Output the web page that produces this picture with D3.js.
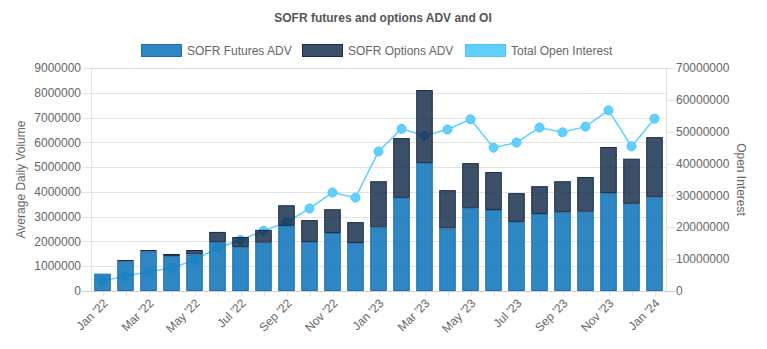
<!DOCTYPE html>
<html>
<head>
<meta charset="utf-8">
<script src="https://cdn.jsdelivr.net/npm/d3@7"></script>
<style>
  body { margin: 0; background: #fff; }
  svg { font-family: "Liberation Sans", Arial, sans-serif; }
</style>
</head>
<body>
<svg id="chart" width="767" height="349"></svg>
<script>
var months = ["Jan '22", "Feb '22", "Mar '22", "Apr '22", "May '22", "Jun '22", "Jul '22", "Aug '22",
  "Sep '22", "Oct '22", "Nov '22", "Dec '22", "Jan '23", "Feb '23", "Mar '23", "Apr '23", "May '23",
  "Jun '23", "Jul '23", "Aug '23", "Sep '23", "Oct '23", "Nov '23", "Dec '23", "Jan '24"];

var futuresADV = [700000, 1200000, 1600000, 1415000, 1480000, 1970000, 1780000, 1950000,
  2630000, 1980000, 2340000, 1940000, 2570000, 3760000, 5160000, 2530000, 3340000,
  3270000, 2790000, 3110000, 3180000, 3200000, 3950000, 3520000, 3800000];

var optionsADV = [15000, 50000, 55000, 80000, 175000, 415000, 400000, 520000,
  830000, 880000, 960000, 840000, 1860000, 2410000, 2950000, 1540000, 1820000,
  1530000, 1160000, 1120000, 1250000, 1400000, 1860000, 1820000, 2410000];

var openInterest = [3100000, 4700000, 6000000, 7200000, 9700000, 13500000, 16000000, 18900000,
  21500000, 25900000, 30900000, 29300000, 43800000, 50900000, 48800000, 50700000, 53900000,
  45000000, 46600000, 51300000, 49800000, 51600000, 56700000, 45400000, 54100000];

var leftTicks = d3.range(0, 9000001, 1000000);
var rightTicks = d3.range(0, 70000001, 10000000);

var svg = d3.select("#chart"),
  margin = { top: 68, right: 101, bottom: 58, left: 91 },
  width = +svg.attr("width") - margin.left - margin.right,
  height = +svg.attr("height") - margin.top - margin.bottom,
  g = svg.append("g").attr("transform", "translate(" + margin.left + "," + margin.top + ")");

var x = d3.scaleBand().domain(months).range([0, width]).paddingInner(0.28).paddingOuter(0.14);
var y = d3.scaleLinear().domain([0, 9000000]).range([height, 0]);
var y2 = d3.scaleLinear().domain([0, 70000000]).range([height, 0]);

// title
svg.append("text")
  .attr("x", 383).attr("y", 22)
  .attr("text-anchor", "middle")
  .attr("font-size", 12).attr("font-weight", "bold")
  .attr("fill", "#555")
  .text("SOFR futures and options ADV and OI");

// colours: [fill, opacity, border]
var colors = {
  futures: ["rgb(23,122,187)", 0.9, "#1f70b0"],
  options: ["rgb(13,36,68)", 0.8, "#1a2b45"],
  oi: ["#5fd0ff", 1, "#4cc6fa"]
};

// legend
var legend = [
  { name: "SOFR Futures ADV", key: "futures", x: 141 },
  { name: "SOFR Options ADV", key: "options", x: 302 },
  { name: "Total Open Interest", key: "oi", x: 465 }
];
var lg = svg.append("g").selectAll("g").data(legend).join("g")
  .attr("transform", function (d) { return "translate(" + d.x + ",44)"; });
lg.append("rect")
  .attr("x", 0.5).attr("y", 0.5).attr("width", 40).attr("height", 12)
  .attr("fill", function (d) { return colors[d.key][0]; })
  .attr("fill-opacity", function (d) { return colors[d.key][1]; })
  .attr("stroke", function (d) { return colors[d.key][2]; });
lg.append("text")
  .attr("x", 46).attr("y", 11)
  .attr("font-size", 12).attr("fill", "#666")
  .text(function (d) { return d.name; });

// grid
g.append("g")
  .selectAll("line").data(leftTicks).join("line")
  .attr("x1", -9).attr("x2", width)
  .attr("y1", function (d) { return Math.round(y(d)) + 0.5; })
  .attr("y2", function (d) { return Math.round(y(d)) + 0.5; })
  .attr("stroke", "#e3e3e3");

g.append("g")
  .selectAll("line").data(rightTicks).join("line")
  .attr("x1", width).attr("x2", width + 9)
  .attr("y1", function (d) { return Math.round(y2(d)) + 0.5; })
  .attr("y2", function (d) { return Math.round(y2(d)) + 0.5; })
  .attr("stroke", "#e3e3e3");

g.append("line").attr("x1", 0.5).attr("x2", 0.5).attr("y1", 0).attr("y2", height).attr("stroke", "#e3e3e3");
g.append("line").attr("x1", width + 0.5).attr("x2", width + 0.5).attr("y1", 0).attr("y2", height).attr("stroke", "#e3e3e3");

// x tick marks
g.append("g")
  .selectAll("line").data(months).join("line")
  .attr("x1", function (d) { return Math.round(x(d) + x.bandwidth() / 2) + 0.5; })
  .attr("x2", function (d) { return Math.round(x(d) + x.bandwidth() / 2) + 0.5; })
  .attr("y1", height).attr("y2", height + 5)
  .attr("stroke", "#e3e3e3");

// left axis labels
g.append("g")
  .selectAll("text").data(leftTicks).join("text")
  .attr("x", -10).attr("y", function (d) { return y(d); })
  .attr("dy", "0.35em")
  .attr("text-anchor", "end")
  .attr("font-size", 12).attr("fill", "#666")
  .text(function (d) { return d; });

// right axis labels
g.append("g")
  .selectAll("text").data(rightTicks).join("text")
  .attr("x", width + 10).attr("y", function (d) { return y2(d); })
  .attr("dy", "0.35em")
  .attr("font-size", 12).attr("fill", "#666")
  .text(function (d) { return d; });

// x labels (every other month)
g.append("g")
  .selectAll("text").data(months.filter(function (d, i) { return i % 2 === 0; })).join("text")
  .attr("transform", function (d) {
    return "translate(" + (x(d) + x.bandwidth() / 2 + 3) + "," + (height + 10) + ") rotate(-45)";
  })
  .attr("text-anchor", "end")
  .attr("dy", "0.35em")
  .attr("font-size", 12).attr("fill", "#666")
  .text(function (d) { return d; });

// axis titles
svg.append("text")
  .attr("transform", "translate(25," + (margin.top + height / 2) + ") rotate(-90)")
  .attr("text-anchor", "middle")
  .attr("font-size", 12).attr("fill", "#666")
  .text("Average Daily Volume");

svg.append("text")
  .attr("transform", "translate(737," + (margin.top + height / 2) + ") rotate(90)")
  .attr("text-anchor", "middle")
  .attr("font-size", 12).attr("fill", "#666")
  .text("Open Interest");

// open interest line (behind bars)
var line = d3.line()
  .x(function (d, i) { return x(months[i]) + x.bandwidth() / 2; })
  .y(function (d) { return y2(d); });

g.append("path")
  .datum(openInterest)
  .attr("fill", "none")
  .attr("stroke", colors.oi[0])
  .attr("stroke-width", 1.5)
  .attr("d", line);

g.append("g")
  .selectAll("circle").data(openInterest).join("circle")
  .attr("cx", function (d, i) { return x(months[i]) + x.bandwidth() / 2; })
  .attr("cy", function (d) { return y2(d); })
  .attr("r", 4.5)
  .attr("fill", colors.oi[0])
  .attr("stroke", colors.oi[2]);

// stacked bars
var stackData = months.map(function (m, i) {
  return { month: m, futures: futuresADV[i], options: optionsADV[i] };
});
var series = d3.stack().keys(["futures", "options"])(stackData);

g.append("g")
  .selectAll("g").data(series).join("g")
  .attr("fill", function (s) { return colors[s.key][0]; })
  .attr("fill-opacity", function (s) { return colors[s.key][1]; })
  .attr("stroke", function (s) { return colors[s.key][2]; })
  .selectAll("rect").data(function (s) { return s; }).join("rect")
  .attr("x", function (d) { return x(d.data.month) + 0.5; })
  .attr("y", function (d) { return y(d[1]) + 0.5; })
  .attr("width", x.bandwidth() - 1)
  .attr("height", function (d) { return Math.max(0, y(d[0]) - y(d[1]) - 1); })
  .attr("stroke-width", 1);

// bottom axis line
g.append("line").attr("x1", -9).attr("x2", width + 9)
  .attr("y1", height + 0.5).attr("y2", height + 0.5)
  .attr("stroke", "#cfcfcf");
</script>
</body>
</html>
